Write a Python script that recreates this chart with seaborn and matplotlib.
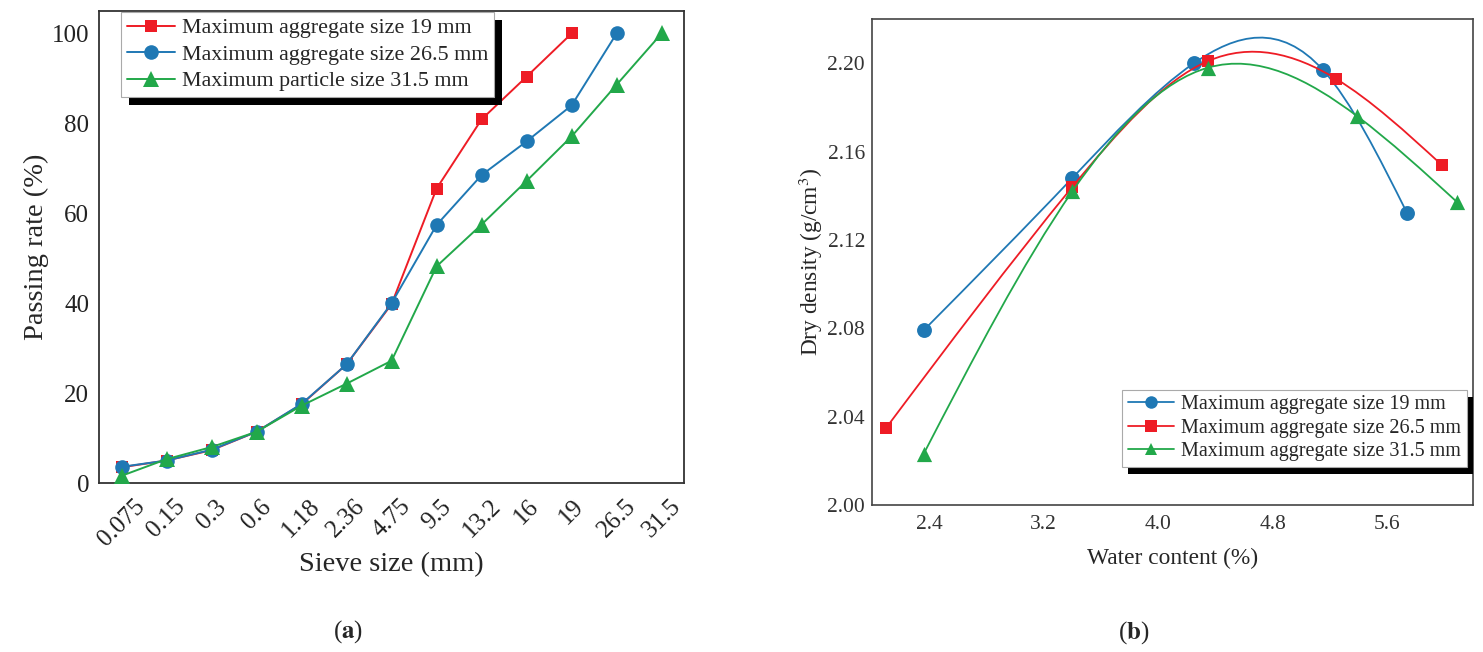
import numpy as np
import pandas as pd
import seaborn as sns
import matplotlib
matplotlib.use("Agg")
import matplotlib.pyplot as plt
from matplotlib.path import Path
from matplotlib.patches import PathPatch, Rectangle
from matplotlib.lines import Line2D

# (a) grading curves
sieve_sizes = ["0.075", "0.15", "0.3", "0.6", "1.18", "2.36", "4.75",
               "9.5", "13.2", "16", "19", "26.5", "31.5"]
passing_19 = [3.5, 5.0, 7.3, 11.4, 17.5, 26.4, 39.8, 65.5, 80.9, 90.4, 100]
passing_265 = [3.6, 5.0, 7.4, 11.4, 17.6, 26.4, 40.0, 57.4, 68.5, 76.0, 84.0, 100]
passing_315 = [1.6, 5.3, 8.0, 11.4, 17.2, 22.1, 27.2, 48.2, 57.5, 67.2, 77.1, 88.6, 100]

# (b) compaction curves
wc_19 = [2.36, 3.40, 4.25, 5.15, 5.74]
dd_19 = [2.079, 2.148, 2.200, 2.197, 2.132]
wc_265 = [2.10, 3.40, 4.35, 5.24, 5.98]
dd_265 = [2.035, 2.144, 2.201, 2.193, 2.154]
wc_315 = [2.36, 3.40, 4.35, 5.39, 6.09]
dd_315 = [2.023, 2.142, 2.198, 2.176, 2.137]

RED = "#EE1C25"
BLUE = "#1F78B4"
GREEN = "#22A84A"


def spline_path(x, y):
    # natural cubic spline written as bezier segments
    x = np.asarray(x, float)
    y = np.asarray(y, float)
    n = len(x)
    h = np.diff(x)
    A = np.zeros((n, n))
    r = np.zeros(n)
    A[0, 0] = 1
    A[-1, -1] = 1
    for i in range(1, n - 1):
        A[i, i - 1] = h[i - 1]
        A[i, i] = 2 * (h[i - 1] + h[i])
        A[i, i + 1] = h[i]
        r[i] = 6 * ((y[i + 1] - y[i]) / h[i] - (y[i] - y[i - 1]) / h[i - 1])
    M = np.linalg.solve(A, r)
    verts = [(x[0], y[0])]
    codes = [Path.MOVETO]
    for i in range(n - 1):
        s = (y[i + 1] - y[i]) / h[i]
        d0 = s - h[i] * (2 * M[i] + M[i + 1]) / 6
        d1 = s + h[i] * (M[i] + 2 * M[i + 1]) / 6
        verts += [(x[i] + h[i] / 3, y[i] + h[i] / 3 * d0),
                  (x[i + 1] - h[i] / 3, y[i + 1] - h[i] / 3 * d1),
                  (x[i + 1], y[i + 1])]
        codes += [Path.CURVE4] * 3
    return Path(verts, codes)


def add_shadow(fig, ax, leg, dx, dy):
    fig.canvas.draw()
    bb = leg.get_frame().get_window_extent(fig.canvas.get_renderer())
    inv = ax.transAxes.inverted()
    (x0, y0), (x1, y1) = inv.transform([(bb.x0 + dx, bb.y0 - dy), (bb.x1 + dx, bb.y1 - dy)])
    ax.add_patch(Rectangle((x0, y0), x1 - x0, y1 - y0, transform=ax.transAxes,
                           facecolor="black", edgecolor="none", clip_on=False, zorder=4.9))


sns.set_theme(style="white")
plt.rcParams["font.family"] = ["Liberation Serif", "DejaVu Serif"]
plt.rcParams["mathtext.fontset"] = "stix"

fig = plt.figure(figsize=(14.83, 6.52), dpi=100)
ax1 = fig.add_axes([0.0668, 0.2592, 0.3945, 0.7239])
ax2 = fig.add_axes([0.588, 0.2255, 0.4053, 0.7454])

# ---- panel a
df19 = pd.DataFrame({"sieve": sieve_sizes[:len(passing_19)], "rate": passing_19})
df265 = pd.DataFrame({"sieve": sieve_sizes[:len(passing_265)], "rate": passing_265})
df315 = pd.DataFrame({"sieve": sieve_sizes[:len(passing_315)], "rate": passing_315})

sns.lineplot(data=df315, x="sieve", y="rate", sort=False, ax=ax1, color=GREEN,
             marker="^", markersize=11, markeredgewidth=0, linewidth=1.4,
             label="Maximum particle size 31.5 mm", zorder=3)
sns.lineplot(data=df19, x="sieve", y="rate", sort=False, ax=ax1, color=RED,
             marker="s", markersize=9, markeredgewidth=0, linewidth=1.4,
             label="Maximum aggregate size 19 mm", zorder=1)
sns.lineplot(data=df265, x="sieve", y="rate", sort=False, ax=ax1, color=BLUE,
             marker="o", markersize=10.5, markeredgewidth=0, linewidth=1.4,
             label="Maximum aggregate size 26.5 mm", zorder=2)

ax1.set_xlim(-0.5, 12.5)
ax1.set_ylim(0, 105)
ax1.set_yticks([0, 20, 40, 60, 80, 100])
ax1.set_xlabel("Sieve size (mm)", fontsize=20.5, labelpad=1)
ax1.set_ylabel("Passing rate (%)", fontsize=20.5, labelpad=2)
ax1.tick_params(axis="both", direction="in", length=7, width=1.2, labelsize=18,
                colors="#222222", pad=7)
ax1.tick_params(axis="x", pad=9)
plt.setp(ax1.get_xticklabels(), rotation=45, ha="center")
for sp in ax1.spines.values():
    sp.set_linewidth(1.3)
    sp.set_color("#333333")

h, l = ax1.get_legend_handles_labels()
order = [l.index("Maximum aggregate size 19 mm"), l.index("Maximum aggregate size 26.5 mm"),
         l.index("Maximum particle size 31.5 mm")]
leg1 = ax1.legend([h[i] for i in order], [l[i] for i in order], loc="upper left",
                  bbox_to_anchor=(0.038, 0.997), borderaxespad=0, fontsize=15.8,
                  frameon=True, fancybox=False, framealpha=1, edgecolor="#AAAAAA",
                  handlelength=2.2, handletextpad=0.3, labelspacing=0.28, borderpad=0.25)
leg1.get_frame().set_linewidth(0.8)

# ---- panel b
series_b = [(wc_19, dd_19, BLUE, "o", 115, "Maximum aggregate size 19 mm"),
            (wc_265, dd_265, RED, "s", 85, "Maximum aggregate size 26.5 mm"),
            (wc_315, dd_315, GREEN, "^", 120, "Maximum aggregate size 31.5 mm")]
handles = []
for k, (wx, dy, c, m, s, lab) in enumerate(series_b):
    ax2.add_patch(PathPatch(spline_path(wx, dy), facecolor="none", edgecolor=c,
                            linewidth=1.3, zorder=2 + k))
    sns.scatterplot(x=wx, y=dy, ax=ax2, color=c, marker=m, s=s, linewidth=0,
                    zorder=2.5 + k, legend=False)
    handles.append(Line2D([], [], color=c, marker=m, markersize=9, linewidth=1.3,
                          markeredgewidth=0, label=lab))

ax2.set_xlim(2.0, 6.2)
ax2.set_ylim(2.00, 2.22)
ax2.set_xticks([2.4, 3.2, 4.0, 4.8, 5.6])
ax2.set_xticklabels([f"{v:.1f}" for v in [2.4, 3.2, 4.0, 4.8, 5.6]])
ax2.set_yticks([2.00, 2.04, 2.08, 2.12, 2.16, 2.20])
ax2.set_yticklabels([f"{v:.2f}" for v in [2.00, 2.04, 2.08, 2.12, 2.16, 2.20]])
ax2.set_xlabel("Water content (%)", fontsize=16.8, labelpad=10)
ax2.set_ylabel("Dry density (g/cm$^3$)", fontsize=16.8, labelpad=2)
ax2.tick_params(axis="both", direction="in", length=5, width=1.1, labelsize=15.5,
                colors="#333333", pad=5)
ax2.tick_params(axis="x", pad=7)
for sp in ax2.spines.values():
    sp.set_linewidth(1.2)
    sp.set_color("#444444")

leg2 = ax2.legend(handles=handles, loc="lower right", bbox_to_anchor=(0.990, 0.078),
                  borderaxespad=0, fontsize=14.5, frameon=True, fancybox=False,
                  framealpha=1, edgecolor="#AAAAAA", handlelength=2.3,
                  handletextpad=0.35, labelspacing=0.22, borderpad=0.28)
leg2.get_frame().set_linewidth(0.8)

add_shadow(fig, ax1, leg1, 8, 8)
add_shadow(fig, ax2, leg2, 6, 7)

fig.text(348 / 1483, 1 - 632 / 652, r"($\mathbf{a}$)", fontsize=18, ha="center", va="center")
fig.text(1134 / 1483, 1 - 633 / 652, r"($\mathbf{b}$)", fontsize=18, ha="center", va="center")

fig.savefig("out.png", dpi=100)
